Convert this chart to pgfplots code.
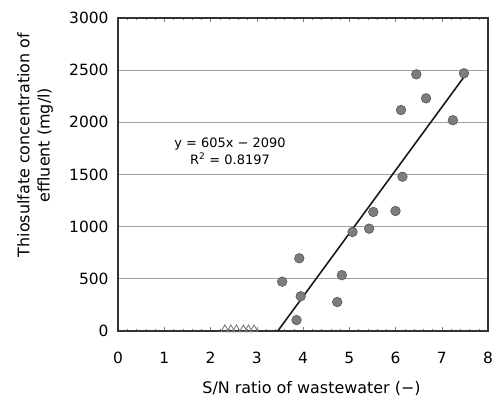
\documentclass[border=0pt]{standalone}
\usepackage{pgfplots}
\pgfplotsset{compat=1.18}
\usepackage{fontspec}
\setmainfont{DejaVu Sans}
\definecolor{dotfill}{RGB}{125,125,125}
\definecolor{dotedge}{RGB}{85,85,85}
\begin{document}
\begin{tikzpicture}[x=1bp,y=1bp]
\path[use as bounding box] (0,0) rectangle (494,400);
\begin{axis}[
  at={(118bp,69bp)}, anchor=south west,
  width=370bp, height=313bp, scale only axis,
  xmin=0, xmax=8, ymin=0, ymax=3000,
  xtick={0,1,...,8}, ytick={0,500,...,3000},
  minor x tick num=4,
  ymajorgrids,
  grid style={gray!75, line width=0.8pt},
  axis line style={black!80, line width=1.6pt},
  tick align=inside,
  major tick length=4bp, minor tick length=2.5bp,
  tick style={gray, line width=0.5pt},
  ytick style={draw=none},
  /pgf/number format/assume math mode=true,
  /pgf/number format/set thousands separator={},
  ticklabel style={font=\fontsize{15.5}{17}\selectfont},
  xticklabel style={anchor=base, yshift=-32bp},
  yticklabel style={xshift=-6bp},
  xlabel={S/N ratio of wastewater (−)},
  ylabel={Thiosulfate concentration of\\effluent (mg/l)},
  label style={font=\fontsize{16}{20.5}\selectfont},
  xlabel style={at={(axis description cs:0.523,-0.185)}, anchor=center},
  ylabel style={at={(axis description cs:-0.224,0.594)}, anchor=center, align=center},
  clip=false,
]
% regression line y = 605x - 2090
\addplot[black!90, line width=1.6pt] coordinates {(3.455,0) (7.5,2447)};
% circles
\addplot[only marks, mark=*, mark size=4.8bp,
  mark options={fill=dotfill, draw=dotedge, line width=0.6pt}]
  table {
x y
6.45 2460
7.48 2470
6.66 2230
6.12 2118
7.24 2020
6.15 1479
5.52 1141
6.00 1150
5.07 949
5.43 981
3.92 697
3.55 473
4.84 535
3.95 333
4.74 278
3.86 105
};
% triangles
\addplot[only marks, mark=triangle, mark size=4.5bp,
  mark options={draw=gray!90!black, line width=0.8pt, fill=white}]
  table {
x y
2.31 15
2.44 15
2.56 15
2.71 15
2.82 15
2.94 15
};
\node[font=\fontsize{13}{17}\selectfont, align=center] at (axis cs:2.42,1725)
  {y = 605x − 2090\\R\textsuperscript{2} = 0.8197};
\end{axis}
\end{tikzpicture}
\end{document}
